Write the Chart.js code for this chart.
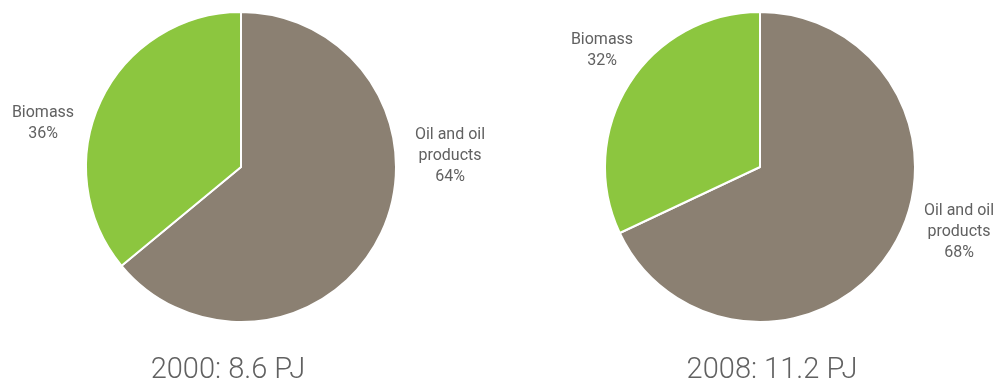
<!DOCTYPE html>
<html>
<head>
<meta charset="utf-8">
<script src="https://cdn.jsdelivr.net/npm/chart.js@4.4.1/dist/chart.umd.min.js"></script>
<style>
  html, body { margin: 0; padding: 0; background: #fff; }
  #wrap { position: relative; width: 1002px; height: 390px; }
  canvas { position: absolute; top: 0; }
  #pie2000 { left: 0; }
  #pie2008 { left: 501px; }
</style>
</head>
<body>
<div id="wrap">
  <canvas id="pie2000" width="501" height="390"></canvas>
  <canvas id="pie2008" width="501" height="390"></canvas>
</div>
<script>
// Data
const categories = ['Oil and oil products', 'Biomass'];
const labelLines = [['Oil and oil', 'products'], ['Biomass']];
const shares2000 = [64, 36];
const shares2008 = [68, 32];
const titles = ['2000: 8.6 PJ', '2008: 11.2 PJ'];

const COLORS = ['#8b8072', '#8cc63f'];
const TEXT = '#616161';

/**
 * Draws slice labels and the year caption
 */
const pieText = {
    id: 'pieText',
    afterDatasetsDraw(chart, args, opts) {
        const ctx = chart.ctx;
        const values = chart.data.datasets[0].data;
        ctx.save();
        ctx.fillStyle = TEXT;
        ctx.textAlign = 'center';
        ctx.textBaseline = 'middle';
        ctx.font = '16px Roboto';
        values.forEach((v, i) => {
            const lines = labelLines[i].concat([v + '%']);
            const pos = opts.labelPos[i];
            const top = pos.y - (lines.length - 1) * 21 / 2;
            lines.forEach((line, j) => ctx.fillText(line, pos.x, top + j * 21));
        });
        ctx.font = '300 29px Roboto';
        ctx.textBaseline = 'alphabetic';
        ctx.fillText(opts.title, opts.titleX, 378);
        ctx.restore();
    }
};

function makePie(id, values, title, padding, labelPos, titleX) {
    return new Chart(document.getElementById(id), {
        type: 'pie',
        data: {
            labels: categories,
            datasets: [{
                data: values,
                backgroundColor: COLORS,
                borderColor: '#ffffff',
                borderWidth: 2
            }]
        },
        options: {
            responsive: false,
            animation: false,
            layout: { padding: padding },
            plugins: {
                legend: { display: false },
                tooltip: { enabled: false },
                pieText: { title: title, labelPos: labelPos, titleX: titleX }
            }
        },
        plugins: [pieText]
    });
}

makePie('pie2000', shares2000, titles[0],
    { left: 85, right: 104, top: 11, bottom: 67 },
    [{ x: 450, y: 156 }, { x: 43, y: 123 }], 228);

makePie('pie2008', shares2008, titles[1],
    { left: 103, right: 86, top: 11, bottom: 67 },
    [{ x: 458, y: 232 }, { x: 101, y: 50 }], 271);
</script>
</body>
</html>
